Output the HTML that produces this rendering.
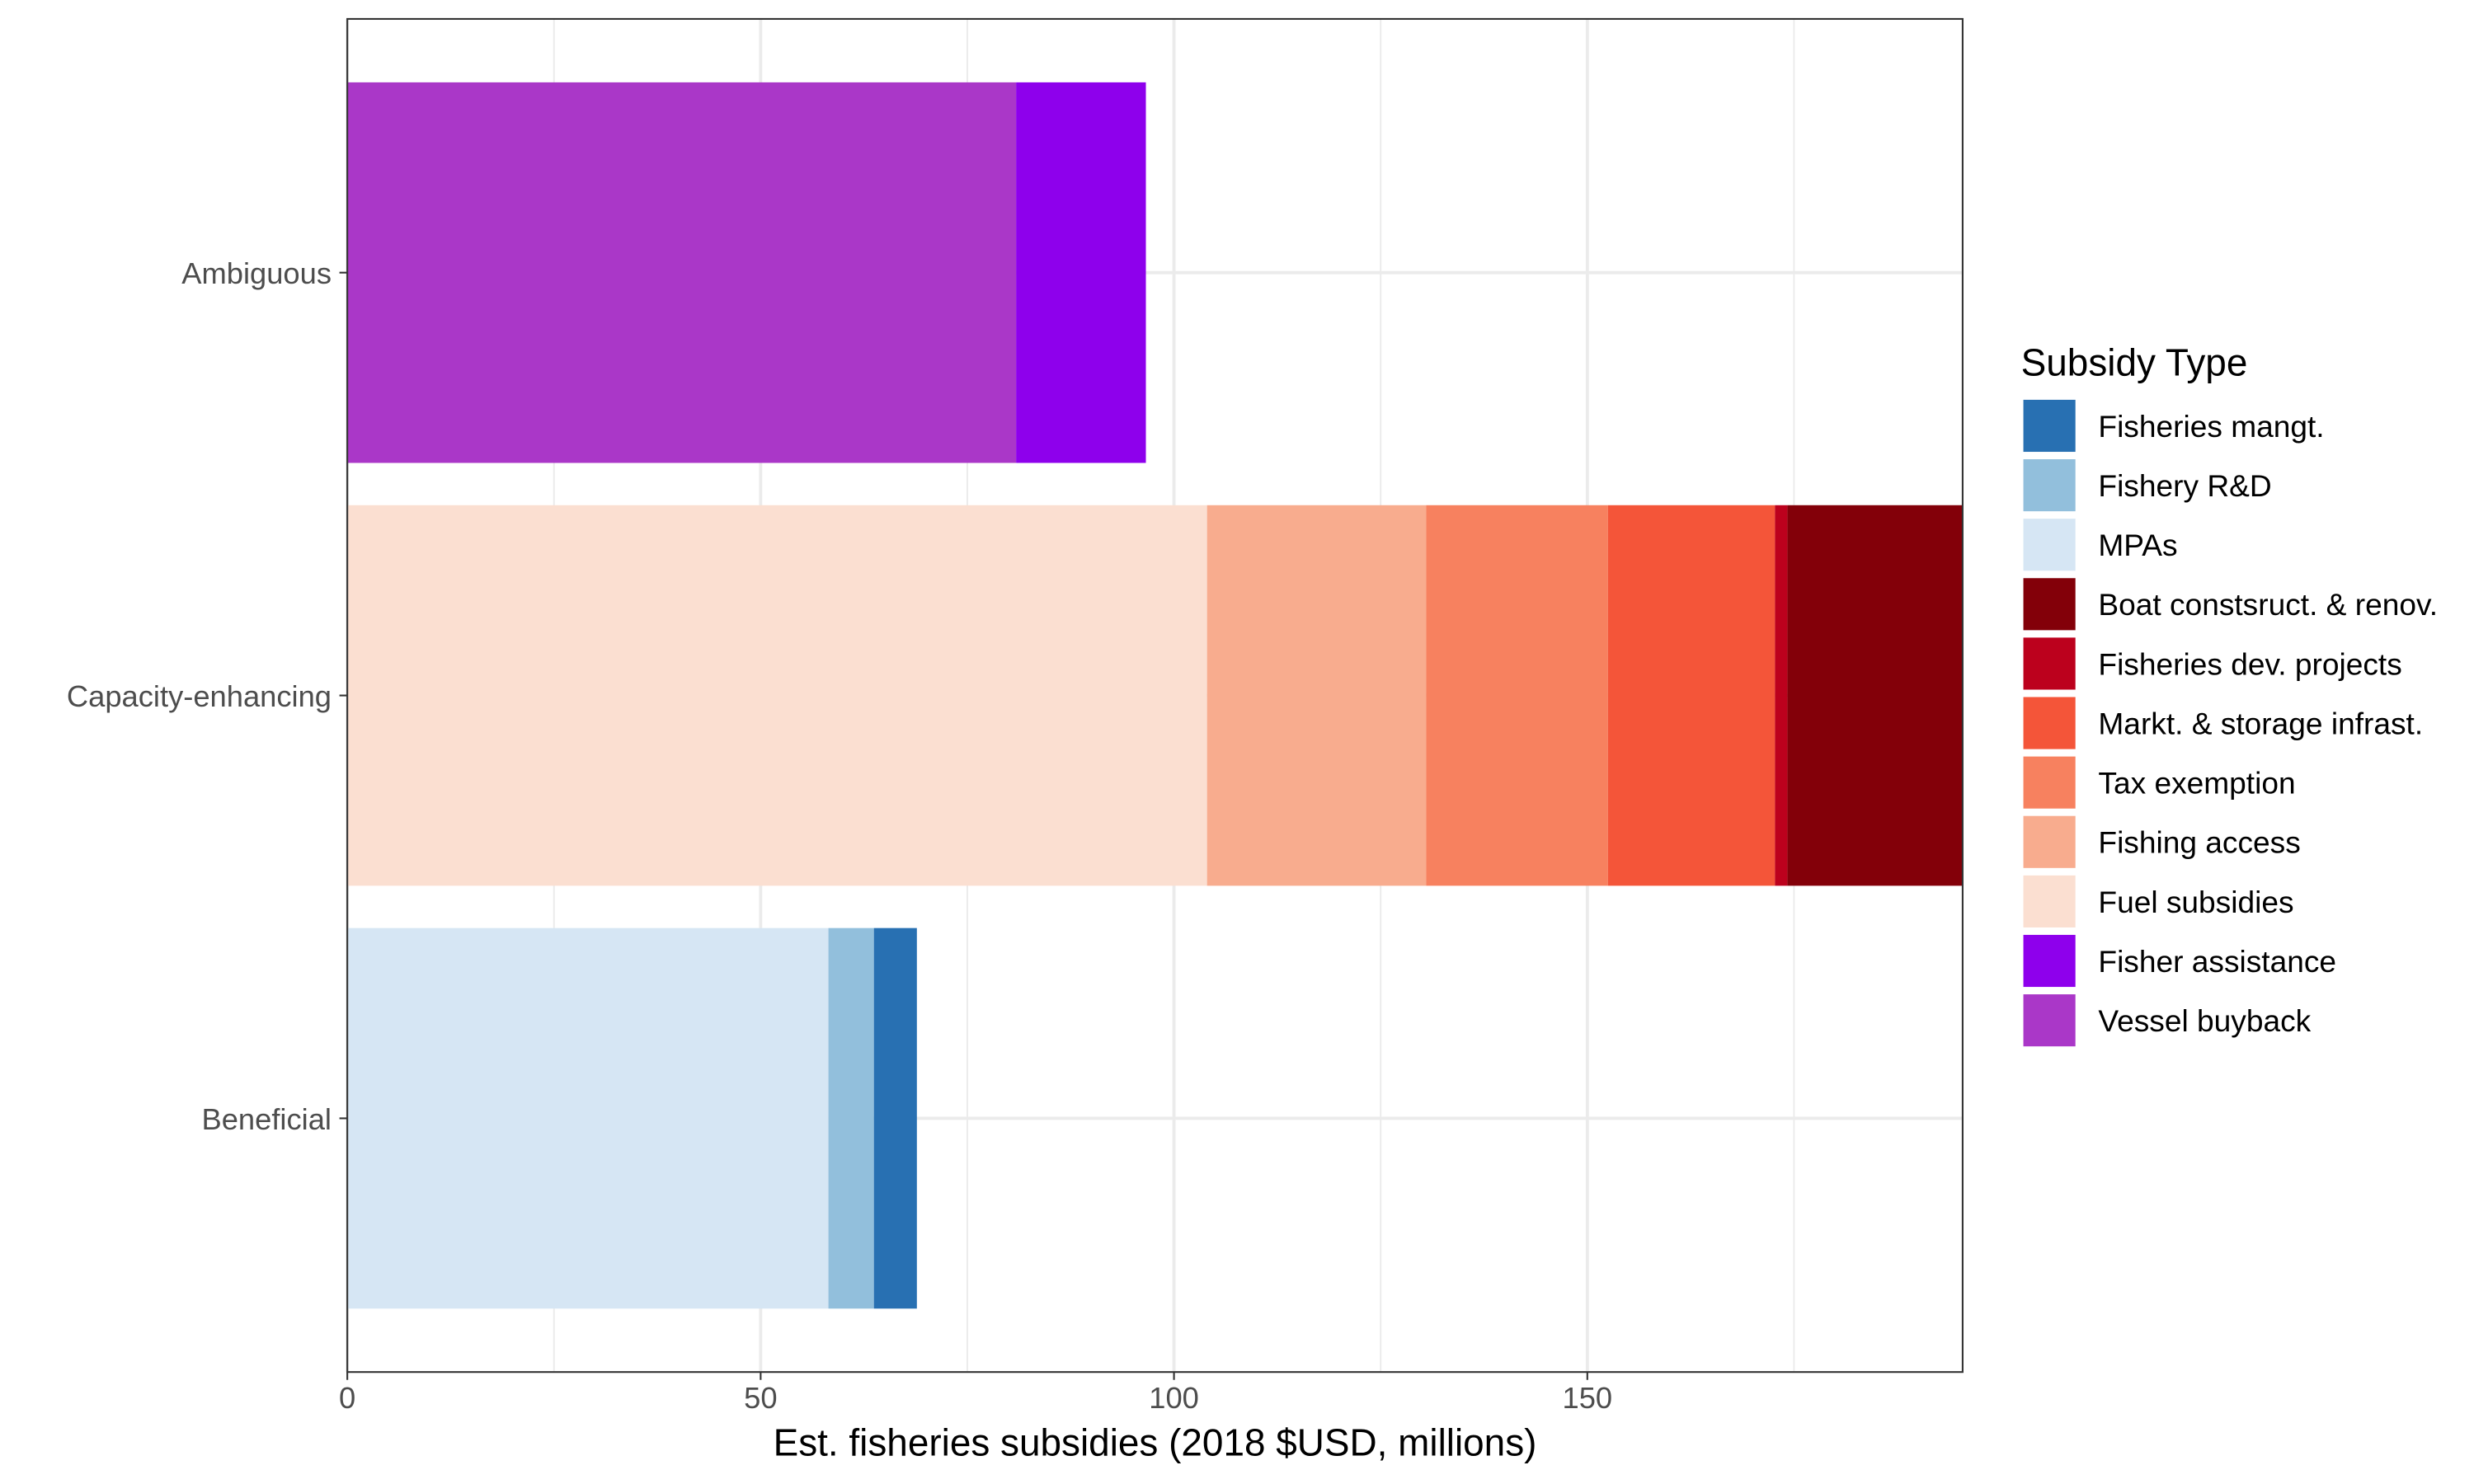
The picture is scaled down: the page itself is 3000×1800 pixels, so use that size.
<!DOCTYPE html>
<html><head><meta charset="utf-8"><style>
html,body{margin:0;padding:0;background:#fff;}
svg{display:block;font-family:"Liberation Sans",Arial,sans-serif;}
</style></head><body>
<svg id="chart" width="3000" height="1800" viewBox="0 0 1568 941" xmlns="http://www.w3.org/2000/svg">
<rect x="0" y="0" width="1568" height="941" fill="#fff"/>
<g id="grid"></g>
<g id="bars"></g>
<rect x="220" y="12" width="1024" height="858" fill="none" stroke="#333" stroke-width="1.1"/>
<g id="axes"></g>
<text x="732" y="923" text-anchor="middle" font-size="24" fill="#000">Est. fisheries subsidies (2018 $USD, millions)</text>
<g id="legend">
<text x="1281" y="238" font-size="24" fill="#000">Subsidy Type</text>
</g>
</svg>
<script>
const categories = ["Ambiguous","Capacity-enhancing","Beneficial"];
const seriesNames = ["Vessel buyback","Fisher assistance","Fuel subsidies","Fishing access","Tax exemption","Markt. & storage infrast.","Fisheries dev. projects","Boat constsruct. & renov.","MPAs","Fishery R&D","Fisheries mangt."];
const seriesCategory = ["Ambiguous","Ambiguous","Capacity-enhancing","Capacity-enhancing","Capacity-enhancing","Capacity-enhancing","Capacity-enhancing","Capacity-enhancing","Beneficial","Beneficial","Beneficial"];
const seriesValues = [80.9,15.7,104.0,26.5,22.0,20.2,1.5,21.2,58.2,5.5,5.2];
const seriesColors = ["#aa37c8","#8e00ec","#fbdfd1","#f8ac8e","#f7815f","#f45539","#bc011d","#830009","#d6e6f4","#92bfdc","#2870b2"];
const legendOrder = ["Fisheries mangt.","Fishery R&D","MPAs","Boat constsruct. & renov.","Fisheries dev. projects","Markt. & storage infrast.","Tax exemption","Fishing access","Fuel subsidies","Fisher assistance","Vessel buyback"];
const xTicks = [0,50,100,150];
const xMinor = [25,75,125,175];
const xMax = 195.4;

const NS="http://www.w3.org/2000/svg";
const L=220,R=1244,T=12,B=870;
const xs=v=>L+(v/xMax)*(R-L);
const step=(B-T)/(categories.length+0.2);
const yc=i=>T+step*(i+0.6);
const bw=step*0.9;
function mk(tag,attrs,parent){const e=document.createElementNS(NS,tag);for(const k in attrs)e.setAttribute(k,attrs[k]);parent.appendChild(e);return e;}
const grid=document.getElementById('grid'),bars=document.getElementById('bars'),axes=document.getElementById('axes'),legend=document.getElementById('legend');
xMinor.forEach(v=>{const l=mk('line',{x1:xs(v),x2:xs(v),y1:T,y2:B,stroke:'#ebebeb','stroke-width':1},grid);

});
xTicks.forEach(v=>{const l=mk('line',{x1:xs(v),x2:xs(v),y1:T,y2:B,stroke:'#ebebeb','stroke-width':2},grid);


const t=mk('line',{x1:xs(v),x2:xs(v),y1:B,y2:B+5,stroke:'#333','stroke-width':1.1},axes);


const tx=mk('text',{x:xs(v),y:B+23,'text-anchor':'middle','font-size':19,fill:'#4d4d4d'},axes);tx.textContent=v;

});
categories.forEach((c,i)=>{const l=mk('line',{x1:L,x2:R,y1:yc(i),y2:yc(i),stroke:'#ebebeb','stroke-width':2},grid);


const t=mk('line',{x1:L-5,x2:L,y1:yc(i),y2:yc(i),stroke:'#333','stroke-width':1.1},axes);


const tx=mk('text',{x:L-10,y:yc(i)+7,'text-anchor':'end','font-size':19,fill:'#4d4d4d'},axes);tx.textContent=c;

});
const cum={};
seriesNames.forEach((s,k)=>{const c=seriesCategory[k];const i=categories.indexOf(c);const x0=cum[c]||0;const x1=x0+seriesValues[k];cum[c]=x1;
const r=mk('rect',{x:xs(x0),y:yc(i)-bw/2,width:xs(x1)-xs(x0),height:bw,fill:seriesColors[k]},bars);

});
legendOrder.forEach((s,j)=>{const k=seriesNames.indexOf(s);const y=253+j*37.7;
const r=mk('rect',{x:1282,y:y,width:34,height:34,fill:seriesColors[k],stroke:'#fff','stroke-width':1},legend);


const t=mk('text',{x:1330,y:y+24,'font-size':19.4,fill:'#000'},legend);t.textContent=s;

});
</script>
</body></html>
